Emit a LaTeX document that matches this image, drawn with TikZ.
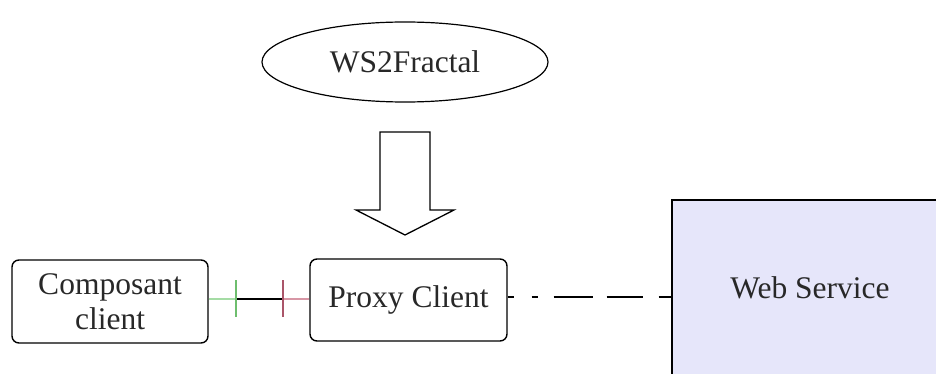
\documentclass[tikz,border=0pt]{standalone}
\usepackage{fontspec}
\setmainfont{Liberation Serif}
\usetikzlibrary{shapes.geometric}
\definecolor{wsfill}{RGB}{230,230,250}
\definecolor{tickgreen}{RGB}{110,190,110}
\definecolor{linegreen}{RGB}{165,220,165}
\definecolor{tickred}{RGB}{170,85,105}
\definecolor{linered}{RGB}{215,150,165}
\definecolor{inkgray}{RGB}{40,40,40}
\tikzset{
  lbl/.style={font=\fontsize{31.5}{35}\selectfont, text=inkgray},
  roundbox/.style={lbl, draw=black, line width=1.4pt, rounded corners=7pt,
    inner sep=0pt, align=center},
  blockarrow/.style={draw=black, line width=1.3pt, fill=white},
  wire/.style={line width=1.3pt},
}
\begin{document}
\begin{tikzpicture}[x=1pt, y=-1pt]
  \useasboundingbox (0,0) rectangle (936,374);
  \fill[white] (0,0) rectangle (936,374);

  % service box, running off the right and bottom edges
  \node[lbl, draw=black, line width=1.4pt, fill=wsfill, inner sep=0pt,
        minimum width=276pt, minimum height=176pt] (ws) at (810,288) {Web Service};

  % top ellipse
  \node[lbl, ellipse, draw=black, line width=1.2pt, inner sep=0pt,
        minimum width=286pt, minimum height=80pt] (frac) at (405,62) {WS2Fractal};

  % client side boxes
  \node[roundbox, minimum width=196pt, minimum height=83pt] (comp) at (110,301.5)
       {Composant\\client};
  \node[roundbox, minimum width=197pt, minimum height=82pt] (proxy) at (408.5,300)
       {Proxy Client};

  % hollow block arrow
  \coordinate (ba) at (405,132);
  \draw[blockarrow] (ba) ++(-25,0) -- ++(50,0) -- ++(0,78) -- ++(24,0)
       -- ++(-49,25) -- ++(-49,-25) -- ++(24,0) -- cycle;

  % binding between the composant and the proxy
  \coordinate (gt) at (236,299);
  \coordinate (rt) at (283,299);
  \draw[wire, linegreen] (comp.east |- gt) -- (gt);
  \draw[wire, black] (gt) -- (rt);
  \draw[wire, linered] (rt) -- (proxy.west |- rt);
  \draw[wire, tickgreen] (gt) ++(0,-19) -- ++(0,37);
  \draw[wire, tickred] (rt) ++(0,-19) -- ++(0,37);

  % remote link to the web service
  \draw[wire, dash pattern=on 6pt off 18pt on 6pt off 16pt on 39pt off 14pt on 36pt off 16pt on 14pt off 30pt]
       ([yshift=3pt]proxy.east) -- ([yshift=3pt]proxy.east -| ws.west);
\end{tikzpicture}
\end{document}
